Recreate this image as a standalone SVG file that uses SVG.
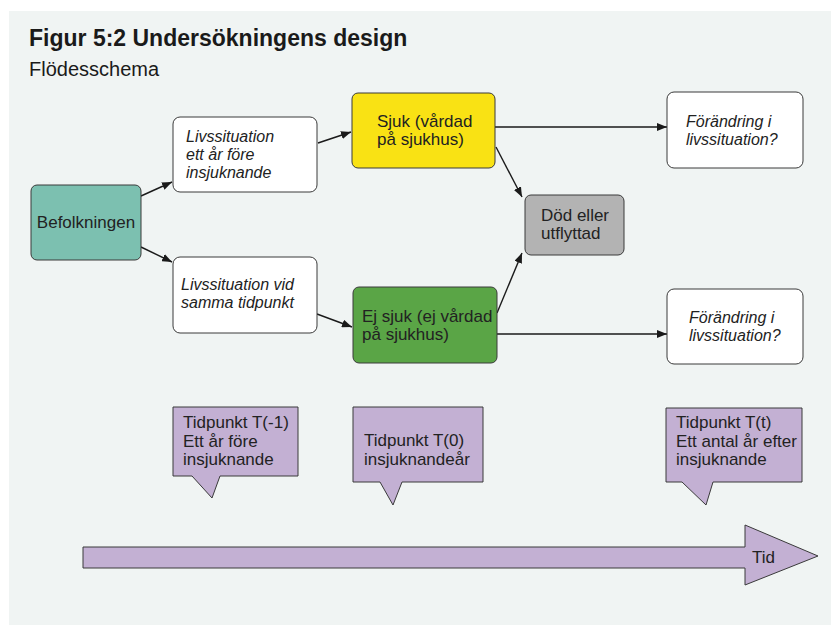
<svg xmlns="http://www.w3.org/2000/svg" width="831" height="625" viewBox="0 0 831 625">
  <defs>
    <marker id="arrow" markerUnits="userSpaceOnUse" markerWidth="10" markerHeight="8" refX="10" refY="4" orient="auto">
      <path d="M0,0 L10,4 L0,8 Z" fill="#1a1a1a"/>
    </marker>
    <style>
      .panel { fill: #f0f4f3; }
      .box { stroke: #3a3a3a; stroke-width: 1; }
      .white { fill: #ffffff; }
      .teal { fill: #7cc0b0; }
      .yellow { fill: #f9e214; }
      .green { fill: #5aa546; }
      .grey { fill: #b3b3b3; }
      .purple { fill: #c3b0d3; stroke: #3a3a3a; stroke-width: 1; }
      .t { font-family: "Liberation Sans", Arial, sans-serif; font-size: 17px; fill: #222222; }
      .it { font-family: "Liberation Sans", Arial, sans-serif; font-size: 16px; font-style: italic; fill: #222222; }
      .title { font-family: "Liberation Sans", Arial, sans-serif; font-size: 23px; font-weight: bold; fill: #1a1a1a; }
      .sub { font-family: "Liberation Sans", Arial, sans-serif; font-size: 20px; fill: #1a1a1a; }
      .edge { fill: none; stroke: #1a1a1a; stroke-width: 1.4; marker-end: url(#arrow); }
    </style>
  </defs>

  <!-- background panel -->
  <rect class="panel" x="9" y="11" width="822" height="614"/>

  <!-- heading -->
  <text class="title" x="29" y="46">Figur 5:2 Undersökningens design</text>
  <text class="sub" x="29" y="76">Flödesschema</text>

  <!-- connectors -->
  <g id="connectors">
    <line class="edge" x1="141" y1="196" x2="172" y2="182"/>
    <line class="edge" x1="141" y1="247" x2="172" y2="262"/>
    <line class="edge" x1="318" y1="143" x2="351" y2="132"/>
    <line class="edge" x1="317" y1="314" x2="352" y2="327"/>
    <line class="edge" x1="495" y1="127" x2="667" y2="127"/>
    <line class="edge" x1="497" y1="334" x2="667" y2="334"/>
    <line class="edge" x1="496" y1="147" x2="522" y2="197"/>
    <line class="edge" x1="497" y1="313" x2="522" y2="253"/>
  </g>

  <!-- nodes -->
  <g id="befolkningen">
    <rect class="box teal" x="31" y="185" width="110" height="75" rx="6"/>
    <text class="t" x="86" y="228" text-anchor="middle">Befolkningen</text>
  </g>

  <g id="livssituation-fore">
    <rect class="box white" x="173" y="117" width="144" height="75" rx="7"/>
    <text class="it" x="186" y="142">Livssituation</text>
    <text class="it" x="186" y="160">ett år före</text>
    <text class="it" x="186" y="178">insjuknande</text>
  </g>

  <g id="livssituation-samma">
    <rect class="box white" x="173" y="257" width="144" height="76" rx="7"/>
    <text class="it" x="181" y="290">Livssituation vid</text>
    <text class="it" x="181" y="308">samma tidpunkt</text>
  </g>

  <g id="sjuk">
    <rect class="box yellow" x="352" y="93" width="143" height="75" rx="6"/>
    <text class="t" x="377" y="127">Sjuk (vårdad</text>
    <text class="t" x="377" y="145">på sjukhus)</text>
  </g>

  <g id="ej-sjuk">
    <rect class="box green" x="353" y="287" width="144" height="76" rx="6"/>
    <text class="t" x="362" y="322">Ej sjuk (ej vårdad</text>
    <text class="t" x="362" y="340">på sjukhus)</text>
  </g>

  <g id="dod">
    <rect class="box grey" x="525" y="195" width="99" height="60" rx="6"/>
    <text class="t" x="541" y="221">Död eller</text>
    <text class="t" x="541" y="239">utflyttad</text>
  </g>

  <g id="forandring-sjuk">
    <rect class="box white" x="667" y="92" width="136" height="76" rx="7"/>
    <text class="it" x="686" y="127">Förändring i</text>
    <text class="it" x="686" y="145">livssituation?</text>
  </g>

  <g id="forandring-ej-sjuk">
    <rect class="box white" x="667" y="289" width="136" height="75" rx="7"/>
    <text class="it" x="689" y="323">Förändring i</text>
    <text class="it" x="689" y="341">livssituation?</text>
  </g>

  <!-- time point callouts -->
  <g id="tidpunkt-minus1">
    <path class="purple" d="M173,407 H298 V476 H220 L212,498 L192,476 H173 Z"/>
    <text class="t" x="183" y="428">Tidpunkt T(-1)</text>
    <text class="t" x="183" y="447">Ett år före</text>
    <text class="t" x="183" y="465">insjuknande</text>
  </g>

  <g id="tidpunkt-0">
    <path class="purple" d="M353,407 H483 V482 H402 L393,505 L380,482 H353 Z"/>
    <text class="t" x="364" y="446">Tidpunkt T(0)</text>
    <text class="t" x="364" y="465">insjuknandeår</text>
  </g>

  <g id="tidpunkt-t">
    <path class="purple" d="M666,408 H802 V482 H713 L706,505 L682,482 H666 Z"/>
    <text class="t" x="676" y="428">Tidpunkt T(t)</text>
    <text class="t" x="676" y="447">Ett antal år efter</text>
    <text class="t" x="676" y="465">insjuknande</text>
  </g>

  <!-- time axis -->
  <g id="tid">
    <path class="purple" d="M83,547 H745 V525 L818,556 L745,585 V568 H83 Z"/>
    <text class="t" x="752" y="563" font-size="19" textLength="23" lengthAdjust="spacingAndGlyphs">Tid</text>
  </g>
</svg>
